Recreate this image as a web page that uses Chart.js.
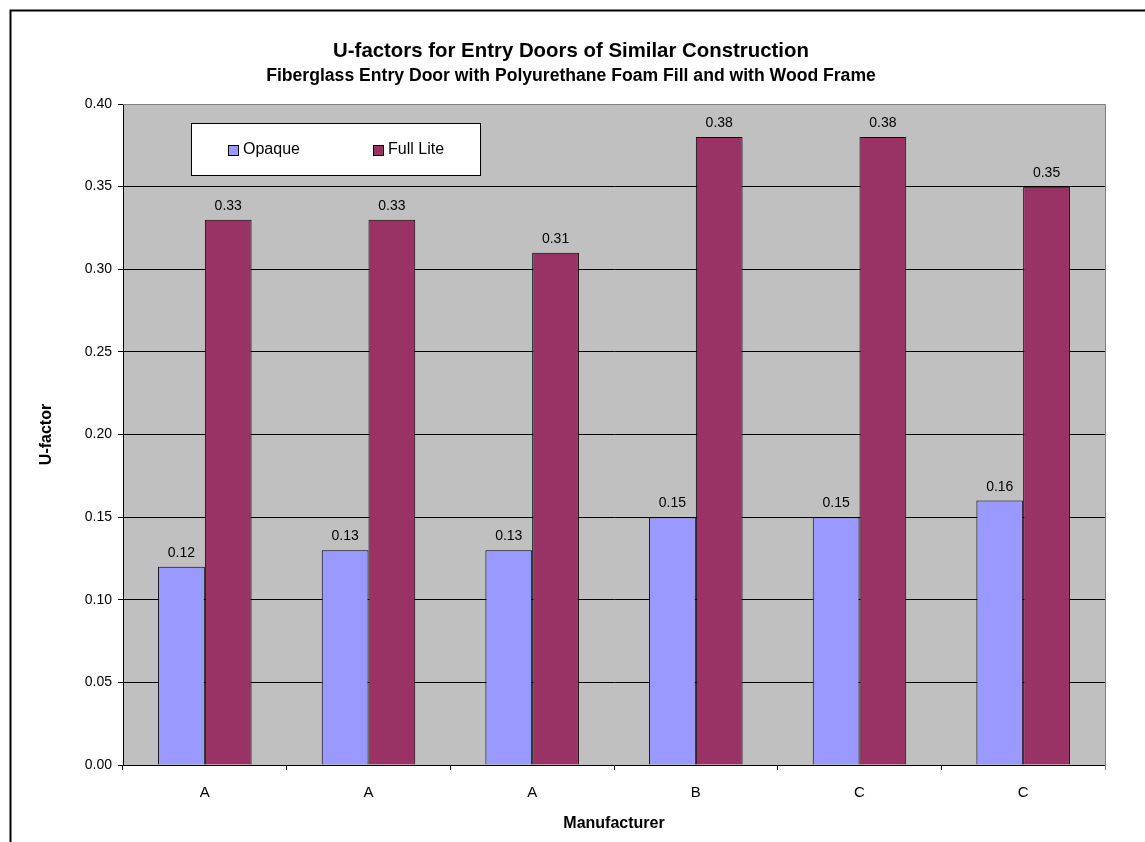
<!DOCTYPE html>
<html>
<head>
<meta charset="utf-8">
<script src="https://cdn.jsdelivr.net/npm/chart.js@4.4.0/dist/chart.umd.min.js"></script>
<style>
  html, body { margin: 0; padding: 0; background: #ffffff; }
  #wrap { position: relative; width: 1145px; height: 842px; }
  canvas { display: block; }
</style>
</head>
<body>
<div id="wrap"><canvas id="chart" width="1145" height="842"></canvas></div>
<script>
// Measured U-factors per door sample
const manufacturers = ['A', 'A', 'A', 'B', 'C', 'C'];
const opaque = [0.12, 0.13, 0.13, 0.15, 0.15, 0.16];
const fullLite = [0.33, 0.33, 0.31, 0.38, 0.38, 0.35];
const seriesNames = ['Opaque', 'Full Lite'];
const yMin = 0, yMax = 0.40, yStep = 0.05;

const titleText = 'U-factors for Entry Doors of Similar Construction';
const subtitleText = 'Fiberglass Entry Door with Polyurethane Foam Fill and with Wood Frame';

const FONT = '"Liberation Sans", Arial, Helvetica, sans-serif';
const colOpaque = '#9999FF';
const colFull = '#993366';

// Outer frame, plot background, titles, data labels and the in-plot legend
const decorations = {
  id: 'decorations',
  beforeDraw(chart) {
    const { ctx, chartArea: a } = chart;
    ctx.save();
    ctx.fillStyle = '#ffffff';
    ctx.fillRect(0, 0, chart.width, chart.height);
    ctx.fillStyle = '#C0C0C0';
    ctx.fillRect(a.left, a.top, a.right - a.left, a.bottom - a.top);
    ctx.strokeStyle = '#000000';
    ctx.lineWidth = 2;
    ctx.strokeRect(10.5, 10.5, chart.width + 20, chart.height + 20);
    ctx.restore();
  },
  afterDatasetsDraw(chart) {
    const { ctx } = chart;
    ctx.save();
    ctx.font = '14px ' + FONT;
    ctx.fillStyle = '#000000';
    ctx.textAlign = 'center';
    ctx.textBaseline = 'alphabetic';
    chart.data.datasets.forEach((ds, di) => {
      const meta = chart.getDatasetMeta(di);
      meta.data.forEach((bar, i) => {
        ctx.fillText(ds.data[i].toFixed(2), bar.x, bar.y - 10);
      });
    });
    ctx.restore();
  },
  afterDraw(chart) {
    const { ctx, chartArea: a } = chart;
    ctx.save();
    // top and right edges of the plot area
    ctx.strokeStyle = '#808080';
    ctx.lineWidth = 1;
    ctx.beginPath();
    ctx.moveTo(a.left, a.top + 0.5);
    ctx.lineTo(a.right + 0.5, a.top + 0.5);
    ctx.lineTo(a.right + 0.5, a.bottom + 5);
    ctx.stroke();

    // titles
    ctx.fillStyle = '#000000';
    ctx.textAlign = 'center';
    ctx.textBaseline = 'middle';
    ctx.font = 'bold 20.4px ' + FONT;
    ctx.fillText(titleText, 571, 51);
    ctx.font = 'bold 17.6px ' + FONT;
    ctx.fillText(subtitleText, 571, 76);

    // legend box inside the plot
    const lx = 191, ly = 123, lw = 289, lh = 52;
    ctx.fillStyle = '#ffffff';
    ctx.fillRect(lx, ly, lw, lh);
    ctx.strokeStyle = '#000000';
    ctx.lineWidth = 1;
    ctx.strokeRect(lx + 0.5, ly + 0.5, lw, lh);
    const items = [
      { x: 228, color: colOpaque, label: chart.data.datasets[0].label },
      { x: 373, color: colFull, label: chart.data.datasets[1].label }
    ];
    ctx.font = '16px ' + FONT;
    ctx.textAlign = 'left';
    ctx.textBaseline = 'middle';
    items.forEach(it => {
      ctx.fillStyle = it.color;
      ctx.fillRect(it.x, 145, 10, 10);
      ctx.strokeStyle = '#000000';
      ctx.strokeRect(it.x + 0.5, 145.5, 10, 10);
      ctx.fillStyle = '#000000';
      ctx.fillText(it.label, it.x + 15, 150);
    });
    ctx.restore();
  }
};

new Chart(document.getElementById('chart'), {
  type: 'bar',
  data: {
    labels: manufacturers,
    datasets: [
      { label: seriesNames[0], data: opaque, backgroundColor: colOpaque, borderColor: '#000000', borderWidth: 1 },
      { label: seriesNames[1], data: fullLite, backgroundColor: colFull, borderColor: '#000000', borderWidth: 1 }
    ]
  },
  options: {
    responsive: false,
    animation: false,
    devicePixelRatio: 1,
    layout: { padding: { top: 104, left: 11, right: 40, bottom: 0 } },
    datasets: { bar: { categoryPercentage: 1 / 1.75, barPercentage: 1.0 } },
    plugins: {
      legend: { display: false },
      title: { display: false },
      tooltip: { enabled: false }
    },
    scales: {
      x: {
        offset: true,
        grid: { display: true, drawOnChartArea: false, drawTicks: true, tickLength: 5, color: '#000000', offset: true },
        border: { display: true, color: '#000000', width: 1 },
        ticks: { color: '#000000', font: { family: FONT, size: 15 }, padding: 14, maxRotation: 0 },
        title: { display: true, text: 'Manufacturer', color: '#000000', font: { family: FONT, size: 16, weight: 'bold' }, padding: { top: 0, bottom: 9 } },
        afterFit(scale) { scale.height = 77; }
      },
      y: {
        min: yMin,
        max: yMax,
        grid: {
          color: ctx => (ctx.tick && Math.abs(ctx.tick.value - yMax) < 1e-9) ? '#808080' : '#000000',
          tickColor: '#000000',
          tickLength: 5,
          drawTicks: true
        },
        border: { display: true, color: '#000000', width: 1 },
        ticks: {
          stepSize: yStep,
          color: '#000000',
          font: { family: FONT, size: 14 },
          padding: 6,
          callback: v => Number(v).toFixed(2)
        },
        title: { display: true, text: 'U-factor', color: '#000000', font: { family: FONT, size: 16, weight: 'bold' }, padding: { top: 26, bottom: 0 } },
        afterFit(scale) { scale.width = 112; }
      }
    }
  },
  plugins: [decorations]
});
</script>
</body>
</html>
